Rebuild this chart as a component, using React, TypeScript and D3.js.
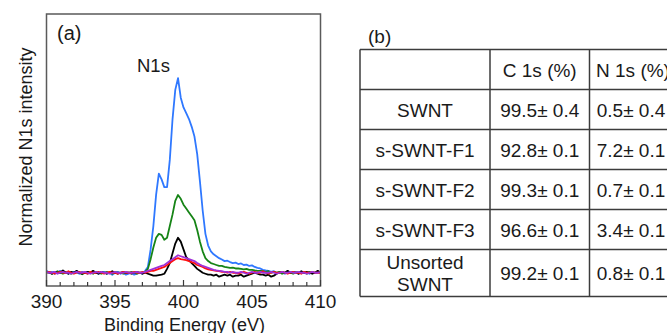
import * as d3 from "d3";

// binding energy grid (eV), 0.2 eV step from 390 to 410
const energy = d3.range(101).map((i) => +(390 + i * 0.2).toFixed(1));

// normalized N1s intensity (baseline = 0, blue peak = 1)
const blueSeries = [
  0.01, 0.0, 0.005, -0.005, 0.0, 0.01, 0.0, 0.005, -0.005, 0.0,
  0.005, 0.0, -0.005, 0.005, 0.0, -0.005, 0.0, 0.005, 0.0, -0.005,
  0.0, 0.005, -0.005, 0.0, -0.01, 0.0, 0.005, -0.005, 0.0, -0.01,
  -0.005, 0.0, -0.01, -0.005, 0.0, -0.005, 0.01, 0.03, 0.12, 0.24,
  0.4, 0.51, 0.48, 0.44, 0.44, 0.58, 0.79, 0.94, 1.0, 0.9,
  0.85, 0.82, 0.79, 0.75, 0.7, 0.61, 0.47, 0.32, 0.2, 0.14,
  0.11, 0.095, 0.085, 0.075, 0.068, 0.06, 0.062, 0.055, 0.05, 0.052,
  0.045, 0.048, 0.04, 0.042, 0.035, 0.038, 0.03, 0.025, 0.022, 0.015,
  0.012, 0.01, 0.005, 0.008, 0.0, 0.005, 0.0, -0.005, 0.005, 0.0,
  0.0, 0.005, -0.005, 0.0, 0.005, 0.0, -0.005, 0.005, 0.0, 0.0, 0.005,
];
const greenSeries = [
  0.0, 0.005, -0.005, 0.0, 0.008, 0.0, -0.005, 0.0, 0.005, -0.005,
  0.0, 0.005, 0.0, -0.008, 0.0, 0.005, 0.0, -0.005, 0.005, 0.0,
  -0.005, 0.0, 0.005, 0.0, -0.005, 0.005, 0.0, 0.0, -0.005, 0.0,
  0.0, 0.005, 0.0, -0.005, 0.0, 0.0, 0.005, 0.02, 0.07, 0.13,
  0.18, 0.2, 0.195, 0.17, 0.18, 0.24, 0.3, 0.37, 0.4, 0.38,
  0.35, 0.33, 0.31, 0.29, 0.27, 0.22, 0.16, 0.11, 0.075, 0.06,
  0.05, 0.045, 0.04, 0.035, 0.035, 0.03, 0.028, 0.025, 0.026, 0.022,
  0.022, 0.02, 0.018, 0.02, 0.015, 0.015, 0.012, 0.01, 0.01, 0.008,
  0.005, 0.008, 0.0, 0.005, 0.0, 0.005, -0.005, 0.0, 0.005, 0.0,
  -0.005, 0.0, 0.005, 0.0, 0.0, -0.005, 0.005, 0.0, 0.0, 0.005, 0.0,
];
const blackSeries = [
  0.005, 0.0, -0.005, 0.005, 0.0, 0.0, 0.012, 0.0, -0.005, 0.005,
  0.0, 0.01, 0.0, -0.005, 0.0, 0.005, 0.0, 0.01, 0.0, -0.005,
  0.005, 0.0, -0.005, 0.0, 0.008, 0.0, -0.005, 0.0, 0.005, 0.0,
  0.0, -0.005, 0.0, 0.005, 0.0, -0.005, 0.0, -0.005, -0.01, -0.015,
  -0.015, -0.012, -0.01, -0.005, 0.02, 0.05, 0.1, 0.15, 0.18, 0.16,
  0.12, 0.08, 0.065, 0.05, 0.035, 0.02, 0.01, 0.0, -0.005, -0.01,
  -0.01, -0.015, -0.01, -0.02, -0.015, -0.01, -0.015, -0.01, -0.02, -0.015,
  -0.015, -0.01, -0.02, -0.015, -0.01, -0.005, 0.0, -0.005, -0.01, -0.01,
  -0.015, -0.01, -0.02, -0.015, -0.005, 0.0, 0.005, 0.0, 0.01, 0.0,
  0.005, 0.0, -0.005, 0.008, 0.0, 0.005, 0.0, -0.005, 0.0, 0.01, 0.0,
];
const redSeries = [
  0.0, 0.005, 0.0, -0.005, 0.0, 0.005, 0.0, 0.0, 0.008, 0.0,
  -0.005, 0.0, 0.005, 0.0, 0.0, -0.005, 0.005, 0.0, 0.0, 0.005,
  0.0, -0.005, 0.0, 0.005, 0.0, 0.0, -0.005, 0.0, 0.005, 0.0,
  0.0, 0.0, 0.005, 0.0, 0.0, 0.005, 0.0, 0.005, 0.01, 0.01,
  0.015, 0.02, 0.025, 0.03, 0.04, 0.05, 0.06, 0.07, 0.075, 0.07,
  0.068, 0.065, 0.06, 0.055, 0.05, 0.04, 0.035, 0.03, 0.022, 0.018,
  0.015, 0.012, 0.01, 0.008, 0.005, 0.005, 0.0, 0.005, 0.0, 0.0,
  -0.005, 0.0, 0.005, 0.0, -0.005, 0.0, 0.005, 0.0, 0.0, 0.008,
  0.0, -0.005, 0.0, 0.005, 0.0, 0.0, 0.005, 0.0, -0.005, 0.0,
  0.005, 0.0, 0.0, -0.005, 0.005, 0.0, 0.0, 0.005, 0.0, 0.0, 0.0,
];
const purpleSeries = [
  0.005, 0.0, 0.0, 0.005, -0.005, 0.0, 0.005, 0.0, 0.0, -0.005,
  0.0, 0.005, 0.0, 0.0, 0.005, 0.0, -0.005, 0.0, 0.005, 0.0,
  0.005, 0.0, 0.0, -0.005, 0.0, 0.005, 0.0, 0.0, 0.0, 0.005,
  0.0, 0.0, 0.0, 0.005, 0.0, 0.0, 0.005, 0.01, 0.015, 0.02,
  0.025, 0.03, 0.035, 0.04, 0.05, 0.06, 0.07, 0.08, 0.09, 0.085,
  0.08, 0.075, 0.07, 0.065, 0.06, 0.05, 0.042, 0.035, 0.03, 0.025,
  0.02, 0.015, 0.012, 0.01, 0.008, 0.005, 0.005, 0.0, 0.005, 0.0,
  0.0, 0.005, 0.0, -0.005, 0.0, 0.005, 0.0, 0.0, 0.005, 0.0,
  0.0, 0.0, 0.005, 0.0, -0.005, 0.0, 0.005, 0.0, 0.0, 0.005,
  0.0, 0.0, 0.005, 0.0, 0.0, -0.005, 0.0, 0.005, 0.0, 0.0, 0.005,
];

const seriesList = [
  { name: "s-SWNT-F1", values: blueSeries, color: "#2f78ff" },
  { name: "s-SWNT-F3", values: greenSeries, color: "#168416" },
  { name: "Unsorted SWNT", values: blackSeries, color: "#000000" },
  { name: "SWNT", values: redSeries, color: "#ff1010" },
  { name: "s-SWNT-F2", values: purpleSeries, color: "#a030d8" },
];

const xTicks = [390, 395, 400, 405, 410];

// table (b)
const tableHeaders = ["", "C 1s (%)", "N 1s (%)"];
const sampleNames = [["SWNT"], ["s-SWNT-F1"], ["s-SWNT-F2"], ["s-SWNT-F3"], ["Unsorted", "SWNT"]];
const carbonValues = ["99.5± 0.4", "92.8± 0.1", "99.3± 0.1", "96.6± 0.1", "99.2± 0.1"];
const nitrogenValues = ["0.5± 0.4", "7.2± 0.1", "0.7± 0.1", "3.4± 0.1", "0.8± 0.1"];

const W = 667;
const H = 333;
const FONT = "'Liberation Sans', Arial, sans-serif";
const TEXT = "#1a1a1a";

export default function App() {
  const plot = { left: 46.5, right: 320.5, top: 14, bottom: 286 };
  const x = d3.scaleLinear().domain([390, 410]).range([plot.left, plot.right]);
  const y = d3.scaleLinear().domain([-0.068, 1.33]).range([plot.bottom, plot.top]);
  const line = d3
    .line<number>()
    .x((_, i) => x(energy[i]))
    .y((d) => y(d));
  const minorTicks = d3.range(390, 411, 1);

  // table geometry
  const colEdges = [360, 490, 589.5, 677];
  const rowEdges = [49.5, 89.5, 129.5, 169.5, 209.5, 249.5, 296.5];

  return (
    <svg
      width={W}
      height={H}
      style={{ position: "absolute", left: 0, top: 0, background: "#fff" }}
      fontFamily={FONT}
    >
      <defs>
        <clipPath id="plotClip">
          <rect x={plot.left} y={plot.top} width={plot.right - plot.left} height={plot.bottom - plot.top} />
        </clipPath>
      </defs>

      {/* panel (a) */}
      <g clipPath="url(#plotClip)">
        {seriesList.map((s) => (
          <path
            key={s.name}
            d={line(s.values) || ""}
            fill="none"
            stroke={s.color}
            strokeWidth={1.8}
            strokeLinejoin="round"
          />
        ))}
      </g>
      <rect
        x={plot.left}
        y={plot.top}
        width={plot.right - plot.left}
        height={plot.bottom - plot.top}
        fill="none"
        stroke="#5a5a5a"
        strokeWidth={1.5}
      />
      {minorTicks.map((t) => (
        <line
          key={t}
          x1={x(t)}
          x2={x(t)}
          y1={plot.bottom}
          y2={plot.bottom - (t % 5 === 0 ? 6 : 4)}
          stroke="#3a3a3a"
          strokeWidth={1.2}
        />
      ))}
      {xTicks.map((t) => (
        <text key={t} x={x(t)} y={308} textAnchor="middle" fontSize={19} fill={TEXT}>
          {t}
        </text>
      ))}
      <text x={(plot.left + plot.right) / 2 + 1} y={331} textAnchor="middle" fontSize={18} fill={TEXT}>
        Binding Energy (eV)
      </text>
      <text
        transform={`translate(32,147) rotate(-90)`}
        textAnchor="middle"
        fontSize={18}
        fill={TEXT}
      >
        Normalized N1s intensity
      </text>
      <text x={57} y={40} fontSize={20} fill={TEXT}>
        (a)
      </text>
      <text x={137} y={72} fontSize={18.5} fill={TEXT}>
        N1s
      </text>

      {/* panel (b) */}
      <text x={368} y={43} fontSize={19} fill={TEXT}>
        (b)
      </text>
      <g stroke="#3c3c3c" strokeWidth={1.5}>
        {rowEdges.map((r) => (
          <line key={r} x1={colEdges[0]} x2={colEdges[3]} y1={r} y2={r} />
        ))}
        {colEdges.map((c) => (
          <line key={c} x1={c} x2={c} y1={rowEdges[0]} y2={rowEdges[rowEdges.length - 1]} />
        ))}
      </g>
      <g fontSize={19} fill={TEXT} textAnchor="middle">
        {tableHeaders.map((h, j) => (
          <text key={j} x={j === 2 ? 633 : (colEdges[j] + colEdges[j + 1]) / 2} y={(rowEdges[0] + rowEdges[1]) / 2 + 7}>
            {h}
          </text>
        ))}
        {sampleNames.map((names, i) => {
          const cy = (rowEdges[i + 1] + rowEdges[i + 2]) / 2;
          return (
            <g key={i}>
              {names.map((n, k) => (
                <text key={k} x={(colEdges[0] + colEdges[1]) / 2} y={cy + 7 + (k - (names.length - 1) / 2) * 22}>
                  {n}
                </text>
              ))}
              <text x={(colEdges[1] + colEdges[2]) / 2} y={cy + 7}>
                {carbonValues[i]}
              </text>
              <text x={631} y={cy + 7}>
                {nitrogenValues[i]}
              </text>
            </g>
          );
        })}
      </g>
    </svg>
  );
}
